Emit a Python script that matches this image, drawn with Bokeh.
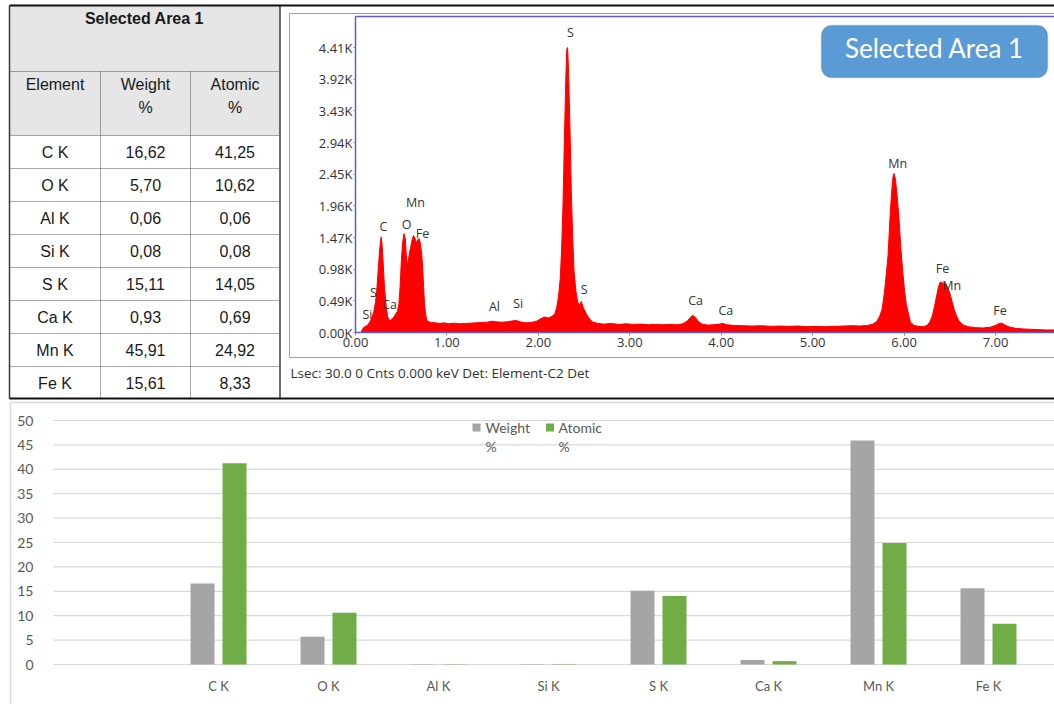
from bokeh.plotting import figure
from bokeh.layouts import column
from bokeh.models import (Range1d, FixedTicker, NumeralTickFormatter, LinearAxis,
                          BoxAnnotation, Label)
from bokeh.core.properties import value
from bokeh.embed import file_html
from bokeh.resources import INLINE

# ---------------- composition table (also feeds the bar chart) ----------------
elements = ["C K", "O K", "Al K", "Si K", "S K", "Ca K", "Mn K", "Fe K"]
weight_pct = [16.62, 5.70, 0.06, 0.08, 15.11, 0.93, 45.91, 15.61]
atomic_pct = [41.25, 10.62, 0.06, 0.08, 14.05, 0.69, 24.92, 8.33]

# ---------------- EDS spectrum (energy in keV, counts) ----------------
energy_kev = [
    0.06, 0.08, 0.10, 0.13, 0.16, 0.18, 0.20, 0.22, 0.235, 0.25, 0.265, 0.28, 0.29,
    0.30, 0.31, 0.32, 0.335, 0.35, 0.365, 0.38, 0.40, 0.42, 0.44, 0.46, 0.475, 0.49,
    0.50, 0.515, 0.53, 0.545, 0.555, 0.565, 0.575, 0.59, 0.605, 0.62, 0.635, 0.65,
    0.665, 0.68, 0.695, 0.71, 0.725, 0.735, 0.745, 0.755, 0.765, 0.78, 0.80, 0.83,
    0.87, 0.92, 0.97, 1.02, 1.08, 1.14, 1.20, 1.26, 1.32, 1.38, 1.44, 1.49, 1.54,
    1.60, 1.66, 1.72, 1.76, 1.80, 1.86, 1.92, 1.98, 2.03, 2.07, 2.11, 2.15, 2.18,
    2.20, 2.22, 2.24, 2.255, 2.27, 2.285, 2.30, 2.31, 2.32, 2.33, 2.34, 2.35, 2.36,
    2.375, 2.39, 2.41, 2.43, 2.45, 2.47, 2.49, 2.52, 2.55, 2.59, 2.65, 2.72, 2.80,
    2.88, 2.96, 3.04, 3.12, 3.20, 3.28, 3.36, 3.44, 3.52, 3.58, 3.63, 3.67, 3.69,
    3.72, 3.75, 3.79, 3.85, 3.92, 3.98, 4.02, 4.06, 4.14, 4.24, 4.34, 4.44, 4.54,
    4.64, 4.74, 4.84, 4.94, 5.04, 5.14, 5.24, 5.34, 5.44, 5.52, 5.60, 5.66, 5.70,
    5.73, 5.76, 5.785, 5.805, 5.825, 5.845, 5.865, 5.88, 5.89, 5.905, 5.925, 5.945,
    5.965, 5.985, 6.005, 6.025, 6.045, 6.07, 6.11, 6.16, 6.21, 6.25, 6.28, 6.31,
    6.335, 6.355, 6.375, 6.395, 6.415, 6.435, 6.455, 6.475, 6.50, 6.525, 6.55,
    6.575, 6.60, 6.64, 6.70, 6.78, 6.86, 6.94, 7.00, 7.04, 7.07, 7.10, 7.15, 7.22,
    7.30, 7.38, 7.46, 7.54, 7.645,
]
counts = [
    0, 60, 90, 110, 170, 230, 320, 480, 700, 1000, 1300, 1480, 1380,
    1150, 880, 650, 420, 250, 200, 185, 210, 240, 290, 330, 450, 760,
    1070, 1380, 1530, 1450, 1200, 1060, 1090, 1230, 1330, 1440, 1500, 1460,
    1390, 1430, 1455, 1380, 1200, 1000, 700, 450, 300, 190, 165, 155,
    150, 140, 150, 135, 145, 135, 140, 145, 150, 155, 160, 175, 165,
    160, 165, 180, 185, 165, 150, 155, 175, 215, 240, 225, 250, 290,
    380, 550, 850, 1300, 2000, 3000, 3900, 4380, 4410, 4050, 3500, 2900, 2200,
    1500, 950, 650, 470, 430, 480, 390, 300, 230, 165, 140, 130, 140,
    125, 135, 125, 130, 120, 125, 120, 125, 120, 135, 180, 245, 265,
    230, 170, 130, 115, 120, 130, 140, 120, 110, 105, 100, 105, 95,
    100, 95, 100, 90, 95, 90, 95, 100, 105, 100, 110, 130, 170,
    240, 360, 620, 900, 1200, 1750, 2200, 2420, 2460, 2380, 2100, 1750,
    1300, 950, 650, 430, 300, 160, 110, 95, 90, 110, 160, 260,
    420, 560, 700, 780, 770, 750, 760, 700, 610, 480, 350,
    250, 180, 120, 90, 75, 70, 80, 110, 140, 145, 120, 85, 65,
    55, 50, 45, 40, 40,
]

# peak identification labels: element, label energy (keV), label height (counts)
peak_names = ["S", "Mn", "C", "O", "Fe", "S", "Ca", "Si", "Al", "Si", "S",
              "Ca", "Ca", "Mn", "Fe", "Mn", "Fe"]
peak_kev = [2.35, 0.656, 0.306, 0.558, 0.733, 0.197, 0.372, 0.131, 1.52, 1.78,
            2.50, 3.72, 4.05, 5.93, 6.42, 6.52, 7.05]
peak_cnt = [4641, 2011, 1640, 1671, 1532, 619, 433, 278, 402, 449, 665, 495,
            340, 2614, 990, 727, 340]

count_ticks = [0, 490, 980, 1470, 1960, 2450, 2940, 3430, 3920, 4410]
energy_ticks = [0, 1, 2, 3, 4, 5, 6, 7]
pct_ticks = [0, 5, 10, 15, 20, 25, 30, 35, 40, 45, 50]

ARIAL = value("Liberation Sans")
UI = value("Open Sans")
OFFICE = value("Lato")
BLUE = "#5c5cd6"


def fmt(v):
    return f"{v:.2f}".replace(".", ",")


# ================= top panel: table + EDS spectrum =================
E_MAX, C_MAX = 7.645, 4890
KEV_PX = 91.43              # pixels per keV
CNT_PX = C_MAX / 316        # counts per pixel
X0_PX, Y0_PX = 355, 332     # where 0 keV / 0 counts sit in the panel


def sx(px):
    return (px - X0_PX) / KEV_PX


def sy(py):
    return (Y0_PX - py) * CNT_PX


top = figure(width=1054, height=400,
             x_range=Range1d(sx(0), sx(1054)), y_range=Range1d(sy(400), sy(0)),
             x_axis_type=None, y_axis_type=None, min_border=0,
             output_backend="svg", toolbar_location=None, outline_line_color=None)
top.extra_x_ranges = {"px": Range1d(0, 1054)}
top.extra_y_ranges = {"px": Range1d(400, 0)}
PX = dict(x_range_name="px", y_range_name="px")

# --- table ---
L, R = 9, 279
col_edges = [9, 100, 190, 279]
col_mid = [(col_edges[i] + col_edges[i + 1]) / 2 for i in range(3)]
title_top, head_top, body_top, row_h, bottom = 5, 71, 135, 33, 398
n = len(elements)

top.quad(left=L, right=R, top=title_top, bottom=body_top,
         fill_color="#e6e6e6", line_color=None, **PX)

body_y = [body_top + row_h * (i + 0.5) for i in range(n)]
txt = dict(text_font=ARIAL, text_font_size="16px", text_align="center",
           text_baseline="middle", text_color="#1a1a1a", **PX)
top.text(x=[col_mid[0]] * n, y=body_y, text=elements, **txt)
top.text(x=[col_mid[1]] * n, y=body_y, text=[fmt(v) for v in weight_pct], **txt)
top.text(x=[col_mid[2]] * n, y=body_y, text=[fmt(v) for v in atomic_pct], **txt)
top.text(x=[col_mid[0], col_mid[1], col_mid[1], col_mid[2], col_mid[2]],
         y=[84, 84, 107, 84, 107],
         text=["Element", "Weight", "%", "Atomic", "%"], **txt)
top.text(x=[(L + R) / 2], y=[18], text=["Selected Area 1"], text_font_style="bold",
         **txt)

h_lines = [head_top, body_top] + [body_top + row_h * k for k in range(1, n)]
xs = [[L, R] for _ in h_lines] + [[x, x] for x in col_edges[1:3]]
ys = [[y, y] for y in h_lines] + [[head_top, bottom] for _ in col_edges[1:3]]
top.multi_line(xs=xs, ys=ys, line_color="#555555", line_width=1, line_dash="1 1", **PX)
top.multi_line(xs=[[L, L], [279.5, 279.5]], ys=[[title_top, bottom], [title_top, bottom]],
               line_color="#3a3a3a", line_width=1.5, **PX)
top.multi_line(xs=[[L, 1054], [L, 1054]], ys=[[title_top, title_top], [bottom, bottom]],
               line_color="#111111", line_width=2, **PX)

# --- spectrum frame decorations ---
top.multi_line(xs=[[289, 1054], [289, 289], [289, 1054]],
               ys=[[13, 13], [13, 357], [357, 357]],
               line_color="#a0a0a0", line_width=1, **PX)
top.text(x=[290], y=[372], text=["Lsec: 30.0 0 Cnts  0.000 keV Det: Element-C2 Det"],
         text_font=UI, text_font_size="13.5px", text_color="#333333",
         text_baseline="middle", **PX)

# --- spectrum ---
top.varea(x=energy_kev, y1=0, y2=counts, fill_color="#ff0000")
top.line(x=energy_kev, y=counts, line_color="#ff0000", line_width=1)
top.line(x=[0, E_MAX], y=[C_MAX, C_MAX], line_color=BLUE, line_width=1.5)

top.text(x=peak_kev, y=peak_cnt, text=peak_names, text_font=UI,
         text_font_size="12.5px", text_color="#333333", text_align="center",
         text_baseline="middle")

xax = LinearAxis(fixed_location=0, bounds=(0, E_MAX),
                 ticker=FixedTicker(ticks=energy_ticks),
                 formatter=NumeralTickFormatter(format="0.00"))
yax = LinearAxis(fixed_location=0, bounds=(0, C_MAX),
                 ticker=FixedTicker(ticks=count_ticks),
                 major_label_overrides={t: f"{t / 1000:.2f}K" for t in count_ticks})
for ax in (xax, yax):
    ax.axis_line_color = BLUE
    ax.axis_line_width = 1.5
    ax.major_tick_in = 0
    ax.major_tick_line_color = "#888888"
    ax.minor_tick_line_color = None
    ax.major_label_text_font = "Open Sans"
    ax.major_label_text_font_size = "13px"
    ax.major_label_text_color = "#333333"
xax.major_tick_out = 3
xax.major_label_standoff = 2
yax.major_tick_out = 2
yax.major_label_standoff = 1
top.add_layout(xax, "below")
top.add_layout(yax, "left")

top.add_layout(BoxAnnotation(left=sx(821), right=sx(1047), top=sy(25), bottom=sy(77),
                             fill_color="#5b9bd5", fill_alpha=1.0,
                             line_color="#41719c", line_width=1.5, border_radius=10))
top.add_layout(Label(x=934, y=47, x_range_name="px", y_range_name="px",
                     text="Selected Area 1", text_align="center",
                     text_baseline="middle", text_color="white", text_font="Lato",
                     text_font_size="26px"))

# ================= bottom panel: bar chart =================
CAT_W = 110                 # pixels per category
PCT_PX = 4.88               # pixels per percent
X0B, Y0B = 53, 264          # left edge of plot area / zero line within the panel


def bx(px):
    return (px - X0B) / CAT_W - 0.5


def by(py):
    return (Y0B - py) / PCT_PX


bars = figure(width=1054, height=304,
              x_range=Range1d(bx(0), bx(1054)), y_range=Range1d(by(304), by(0)),
              x_axis_type=None, y_axis_type=None, min_border=0,
              output_backend="svg", toolbar_location=None, outline_line_color=None)
bars.extra_x_ranges = {"px": Range1d(0, 1054)}
bars.extra_y_ranges = {"px": Range1d(304, 0)}

# outer chart border
bars.multi_line(xs=[[10, 10], [10, 1054]], ys=[[2, 304], [2, 2]],
                line_color="#d9d9d9", line_width=1.5, **PX)

# horizontal gridlines
bars.segment(x0=bx(X0B), x1=bx(1054), y0=pct_ticks, y1=pct_ticks,
             line_color="#d9d9d9", line_width=1.2)

pos = [i + 1 for i in range(n)]
off, bw = 16 / CAT_W, 24 / CAT_W
bars.vbar(x=[p - off for p in pos], top=weight_pct, width=bw,
          fill_color="#a5a5a5", line_color=None)
bars.vbar(x=[p + off for p in pos], top=atomic_pct, width=bw,
          fill_color="#70ad47", line_color=None)

bxax = LinearAxis(fixed_location=0, bounds=(bx(X0B), bx(1054)),
                  ticker=FixedTicker(ticks=pos),
                  major_label_overrides={p: name for p, name in zip(pos, elements)})
byax = LinearAxis(fixed_location=bx(X0B), bounds=(0, 50),
                  ticker=FixedTicker(ticks=pct_ticks))
for ax in (bxax, byax):
    ax.axis_line_color = None
    ax.major_tick_line_color = None
    ax.minor_tick_line_color = None
    ax.major_label_text_font = "Lato"
    ax.major_label_text_color = "#595959"
byax.major_label_text_font_size = "14px"
byax.major_label_standoff = 14
bxax.major_label_text_font_size = "13px"
bxax.major_label_standoff = 7
bars.add_layout(bxax, "below")
bars.add_layout(byax, "left")

# legend
bars.scatter(x=[476, 549.5], y=[27, 27], marker="square", size=8,
             fill_color=["#a5a5a5", "#70ad47"], line_color=None, **PX)
bars.text(x=[485, 558, 485, 558], y=[27, 27, 46, 46],
          text=["Weight", "Atomic", "%", "%"], text_font=OFFICE,
          text_font_size="14px", text_color="#595959", text_baseline="middle", **PX)

layout = column(top, bars)
open("out.html", "w").write(file_html(layout, INLINE, title="EDS analysis"))
